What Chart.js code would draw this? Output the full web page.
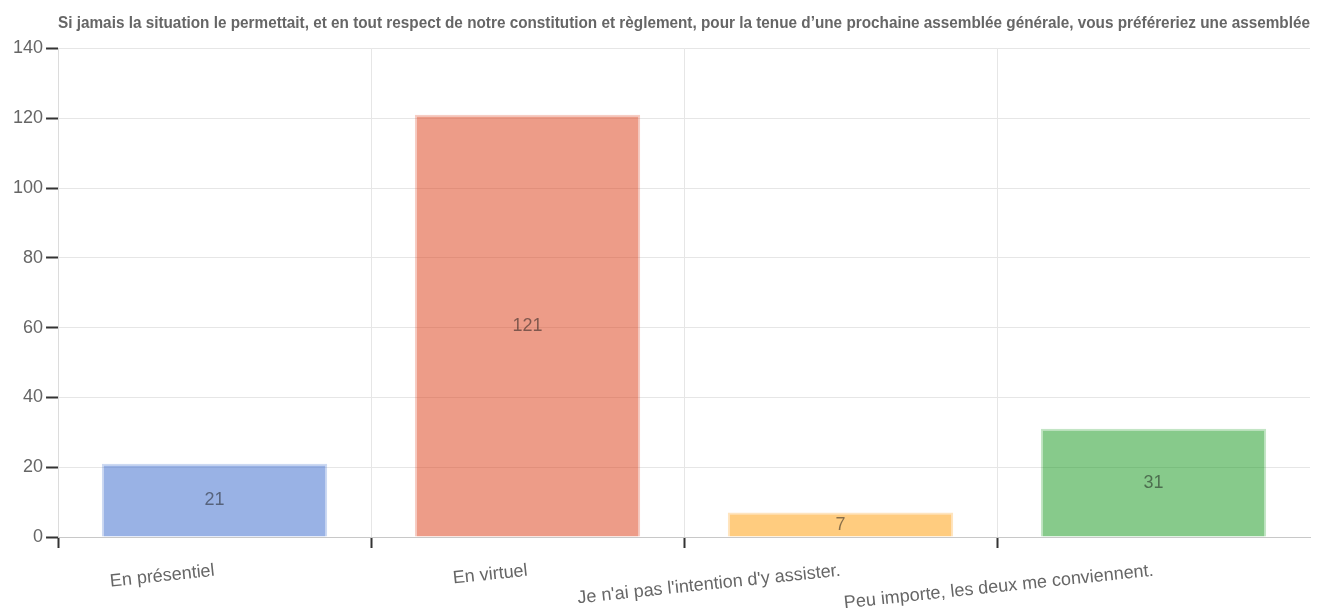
<!DOCTYPE html>
<html>
<head>
<meta charset="utf-8">
<script src="https://cdn.jsdelivr.net/npm/chart.js@4"></script>
<style>
  html, body { margin: 0; padding: 0; background: #fff; }
  #wrap { width: 1321px; height: 610px; }
</style>
</head>
<body>
<div id="wrap"><canvas id="sondage"></canvas></div>
<script>
// data
const titre = "Si jamais la situation le permettait, et en tout respect de notre constitution et règlement, pour la tenue d\u2019une prochaine assemblée générale, vous préféreriez une assemblée";
const reponses = ['En présentiel', 'En virtuel', "Je n'ai pas l'intention d'y assister.", 'Peu importe, les deux me conviennent.'];
const votes = [21, 121, 7, 31];
const yTicks = [0, 20, 40, 60, 80, 100, 120, 140];

const couleurs = ['rgba(51,102,204,0.5)', 'rgba(220,57,18,0.5)', 'rgba(255,153,0,0.5)', 'rgba(16,150,24,0.5)'];
const bordures = ['rgba(51,102,204,0.25)', 'rgba(220,57,18,0.25)', 'rgba(255,153,0,0.25)', 'rgba(16,150,24,0.25)'];

const police = 'Arial, "Liberation Sans", sans-serif';

// valeurs au centre des barres
const etiquettes = {
  id: 'etiquettes',
  afterDatasetsDraw(chart) {
    const ctx = chart.ctx;
    ctx.save();
    ctx.font = '18px ' + police;
    ctx.fillStyle = 'rgba(20,20,20,0.5)';
    ctx.textAlign = 'center';
    ctx.textBaseline = 'middle';
    chart.getDatasetMeta(0).data.forEach((bar, i) => {
      ctx.fillText(String(votes[i]), bar.x, (bar.y + bar.base) / 2);
    });
    ctx.restore();
  }
};

const data = {
  labels: reponses,
  datasets: [{
    data: votes,
    backgroundColor: couleurs,
    borderColor: bordures,
    borderWidth: 2,
    categoryPercentage: 0.8,
    barPercentage: 0.9,
  }]
};

const config = {
  type: 'bar',
  data,
  options: {
    responsive: true,
    maintainAspectRatio: false,
    animation: false,
    layout: { padding: { left: 10, right: 11, top: 2, bottom: 0 } },
    scales: {
      y: {
        min: 0,
        max: 140,
        afterBuildTicks: (scale) => { scale.ticks = yTicks.map(v => ({ value: v })); },
        border: { color: '#dcdcdc' },
        grid: { color: '#e6e6e6', tickColor: '#333', tickLength: 12, tickWidth: 2 },
        ticks: { color: '#666', padding: 3, font: { family: police, size: 18 } }
      },
      x: {
        border: { color: '#c8c8c8' },
        grid: {
          color: (c) => c.index === undefined ? 'rgba(0,0,0,0)' : '#e6e6e6',
          tickColor: (c) => c.index === undefined ? 'rgba(0,0,0,0)' : '#333',
          tickLength: 11,
          tickWidth: 2
        },
        afterFit: (scale) => { scale.height = 73; },
        ticks: {
          color: '#666',
          minRotation: 6,
          maxRotation: 6,
          padding: 12,
          font: { family: police, size: 18 }
        }
      }
    },
    plugins: {
      legend: { display: false },
      tooltip: { enabled: false },
      title: {
        display: true,
        text: titre,
        fullSize: false,
        color: '#666',
        font: { family: police, size: 17, weight: 'bold' },
        padding: { top: 11, bottom: 15 }
      }
    }
  },
  plugins: [etiquettes]
};

new Chart(document.getElementById('sondage'), config);
</script>
</body>
</html>
